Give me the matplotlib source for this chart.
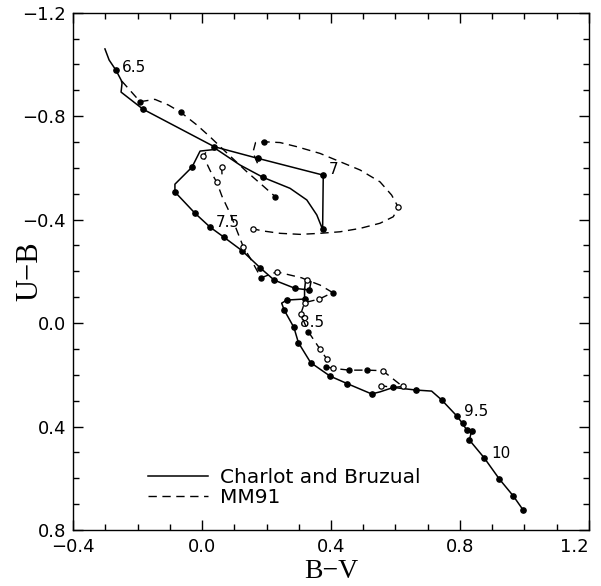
import matplotlib
matplotlib.use('Agg')
import matplotlib.pyplot as plt
import numpy as np

# Charlot and Bruzual track (solid line)
cb_x = [-0.301, -0.288, -0.267, -0.251, -0.248, -0.251, -0.183, 0.038, 0.173, 0.376,
        0.374, 0.356, 0.325, 0.273, 0.190, 0.118, 0.045, -0.006, -0.031, -0.084,
        -0.084, -0.022, 0.025, 0.068, 0.124, 0.181, 0.224, 0.289, 0.333, 0.338,
        0.322, 0.318, 0.318, 0.263, 0.247, 0.255, 0.285, 0.299, 0.337, 0.397,
        0.450, 0.526, 0.552, 0.593, 0.664, 0.712, 0.743, 0.790, 0.808, 0.821,
        0.836, 0.829, 0.875, 0.922, 0.965, 0.996]
cb_y = [-1.060, -1.017, -0.978, -0.940, -0.928, -0.893, -0.827, -0.682, -0.637, -0.572,
        -0.362, -0.418, -0.476, -0.521, -0.563, -0.611, -0.672, -0.665, -0.603, -0.537,
        -0.507, -0.425, -0.371, -0.332, -0.280, -0.213, -0.166, -0.134, -0.128, -0.160,
        -0.172, -0.130, -0.093, -0.089, -0.077, -0.050, 0.017, 0.076, 0.153, 0.205,
        0.234, 0.274, 0.266, 0.249, 0.259, 0.263, 0.297, 0.359, 0.388, 0.414,
        0.418, 0.452, 0.521, 0.603, 0.668, 0.723]
cb_dot_x = [-0.267, -0.183, 0.038, 0.173, 0.376, 0.374, 0.190, -0.031, -0.084, -0.022,
            0.025, 0.068, 0.124, 0.181, 0.224, 0.289, 0.333, 0.318, 0.263, 0.255,
            0.285, 0.299, 0.337, 0.397, 0.450, 0.526, 0.593, 0.664, 0.743, 0.790,
            0.808, 0.821, 0.836, 0.829, 0.875, 0.922, 0.965, 0.996]
cb_dot_y = [-0.978, -0.827, -0.682, -0.637, -0.572, -0.362, -0.563, -0.603, -0.507, -0.425,
            -0.371, -0.332, -0.280, -0.213, -0.166, -0.134, -0.128, -0.093, -0.089, -0.050,
            0.017, 0.076, 0.153, 0.205, 0.234, 0.274, 0.249, 0.259, 0.297, 0.359,
            0.388, 0.414, 0.418, 0.452, 0.521, 0.603, 0.668, 0.723]

# MM91 track (dashed), drawn in pieces
mm1_x = [-0.249, -0.192, -0.146, -0.104, -0.066, -0.016, 0.025, 0.087, 0.139, 0.186, 0.227]
mm1_y = [-0.936, -0.856, -0.865, -0.843, -0.815, -0.766, -0.720, -0.646, -0.585, -0.534, -0.489]

mm2_x = [0.172, 0.158, 0.166, 0.192, 0.242, 0.294, 0.366, 0.428, 0.490, 0.552, 0.588,
         0.609, 0.593, 0.552, 0.490, 0.428, 0.366, 0.304, 0.242, 0.190, 0.159, 0.139]
mm2_y = [-0.618, -0.660, -0.698, -0.701, -0.698, -0.682, -0.656, -0.624, -0.592, -0.546, -0.495,
         -0.447, -0.411, -0.386, -0.366, -0.353, -0.347, -0.343, -0.347, -0.356, -0.364, -0.373]

mm3_x = [0.061, 0.062]
mm3_y = [-0.602, -0.575]

mm4_x = [0.012, 0.004, 0.025, 0.046, 0.062, 0.087, 0.105, 0.120, 0.128, 0.150, 0.183,
         0.232, 0.309, 0.326, 0.366, 0.405, 0.364, 0.318, 0.306, 0.330, 0.366, 0.387,
         0.383, 0.405, 0.457, 0.511, 0.560, 0.622, 0.592, 0.555]
mm4_y = [-0.660, -0.646, -0.590, -0.544, -0.490, -0.424, -0.368, -0.320, -0.295, -0.250, -0.175,
         -0.198, -0.175, -0.166, -0.147, -0.118, -0.093, -0.079, -0.034, 0.034, 0.101, 0.139,
         0.168, 0.175, 0.182, 0.182, 0.184, 0.245, 0.249, 0.242]

mm_filled_x = [-0.192, -0.066, 0.227, 0.192, 0.183, 0.405, 0.330, 0.383, 0.457, 0.511]
mm_filled_y = [-0.856, -0.815, -0.489, -0.701, -0.175, -0.118, 0.034, 0.168, 0.182, 0.182]
mm_open_x = [0.609, 0.159, 0.004, 0.061, 0.046, 0.128, 0.232, 0.326, 0.364, 0.318,
             0.306, 0.366, 0.387, 0.405, 0.560, 0.622, 0.555]
mm_open_y = [-0.447, -0.364, -0.646, -0.602, -0.544, -0.295, -0.198, -0.166, -0.093, -0.079,
             -0.034, 0.101, 0.139, 0.175, 0.184, 0.245, 0.242]

# log age labels
age_text = ['6.5', '7', '7.5', '8.5', '9.5', '10']
age_x = [-0.211, 0.409, 0.081, 0.341, 0.849, 0.927]
age_y = [-0.990, -0.595, -0.389, -0.002, 0.343, 0.506]

fig = plt.figure(figsize=(6.01, 5.86), dpi=100)
ax = fig.add_axes([0.1215, 0.0956, 0.8585, 0.8827])

ax.plot(cb_x, cb_y, color='black', lw=1.1, label='Charlot and Bruzual')
ax.plot(cb_dot_x, cb_dot_y, 'o', color='black', ms=3.8, ls='none')

dash = (0, (6, 4))
ax.plot(mm1_x, mm1_y, color='black', lw=1.0, ls=dash, label='MM91')
for sx, sy in [(mm2_x, mm2_y), (mm3_x, mm3_y), (mm4_x, mm4_y)]:
    ax.plot(sx, sy, color='black', lw=1.0, ls=dash)
ax.plot(mm_filled_x, mm_filled_y, 'o', color='black', ms=3.6, ls='none')
ax.plot(mm_open_x, mm_open_y, 'o', mfc='white', mec='black', mew=0.9, ms=3.8, ls='none')

for t, x, y in zip(age_text, age_x, age_y):
    ax.text(x, y, t, fontsize=11, ha='center', va='center', family='DejaVu Sans')

def fmt(v, pos):
    s = '%.1f' % v
    if s == '-0.0':
        s = '0.0'
    return s.replace('-', '\u2212')

ax.set_xlim(-0.4, 1.2)
ax.set_ylim(0.8, -1.2)
ax.set_xticks(np.arange(-0.4, 1.21, 0.4))
ax.set_yticks(np.arange(-1.2, 0.81, 0.4))
ax.set_xticks(np.arange(-0.4, 1.21, 0.1), minor=True)
ax.set_yticks(np.arange(-1.2, 0.81, 0.1), minor=True)
ax.xaxis.set_major_formatter(matplotlib.ticker.FuncFormatter(fmt))
ax.yaxis.set_major_formatter(matplotlib.ticker.FuncFormatter(fmt))
ax.tick_params(which='both', direction='in', top=True, right=True, width=1.0)
ax.tick_params(which='major', length=7)
ax.tick_params(which='minor', length=4.5)
ax.tick_params(axis='x', labelsize=13, pad=6)
ax.tick_params(axis='y', labelsize=13, pad=5)
for s in ax.spines.values():
    s.set_linewidth(1.0)

fig.canvas.draw()
xlabels = ax.get_xticklabels()
xlabels[-1].set_ha('right')

ax.set_xlabel('B\u2212V', fontsize=20, family='Liberation Serif')
ax.set_ylabel('U\u2212B', fontsize=22, family='Liberation Serif')
ax.xaxis.label.set_va('baseline')
ax.yaxis.label.set_va('center')
ax.xaxis.set_label_coords(0.5, -0.0928)
ax.yaxis.set_label_coords(-0.083, 0.5)

ax.legend(loc='lower left', bbox_to_anchor=(0.145, 0.045), frameon=False, fontsize=14.5,
          handlelength=3.0, handletextpad=0.6, labelspacing=0.05, borderpad=0, borderaxespad=0)

plt.savefig('out.png', dpi=100)
